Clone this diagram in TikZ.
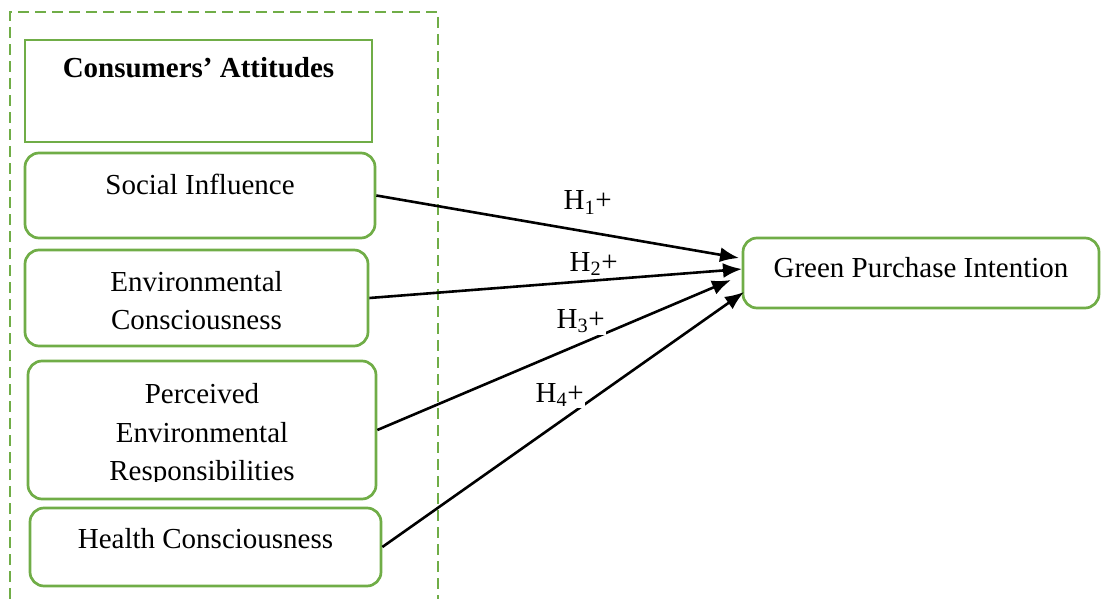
\documentclass[tikz,border=0pt]{standalone}
\usepackage{fontspec}
\setmainfont{Liberation Serif}
\usetikzlibrary{arrows.meta,fit}
\definecolor{gr}{RGB}{112,173,71}
\begin{document}
\begin{tikzpicture}[x=1pt,y=-1pt,
  box/.style={draw=gr,line width=2.7pt,rounded corners=14pt,inner sep=0pt},
  sqbox/.style={draw=gr,line width=2.7pt,inner sep=0pt},
  txt/.style={anchor=base,inner sep=0pt,font=\fontsize{29}{35}\selectfont},
  lbl/.style={anchor=base west,inner sep=1.5pt,fill=white,font=\fontsize{29}{35}\selectfont},
  arr/.style={line width=2.6pt,-{Latex[length=19pt,width=15pt]}}]
\useasboundingbox (0,0) rectangle (1104,599);
% dashed frame
\draw[gr,line width=2.7pt,dash pattern=on 11pt off 6pt] (10,599) -- (10,12) -- (438,12) -- (438,599);
% boxes
\node[sqbox,fit={(25,40)(372,142)}] (ca) {};
\node[txt] (catxt) at (198.5,78) {\bfseries Consumers’ Attitudes};
\node[box,fit={(25,153)(375,238)}] (si) {};
\node[txt] (sitxt) at (200,195) {Social Influence};
\node[box,fit={(25,250)(368,346)}] (ec) {};
\node[txt] (ec1) at (196.5,291) {Environmental};
\node[txt] (ec2) at (196.5,329) {Consciousness};
\node[box,fit={(28,361)(376,499)}] (per) {};
\node[txt] (per1) at (202,403) {Perceived};
\node[txt] (per2) at (202,442) {Environmental};
\begin{scope}
\clip (0,0) rectangle (1104,481);
\node[txt] (per3) at (202,480) {Responsibilities};
\end{scope}
\node[box,fit={(30,508)(381,586)}] (hc) {};
\node[txt] (hctxt) at (205.5,548) {Health Consciousness};
\node[box,fit={(743,238)(1099,308)}] (gpi) {};
\node[txt] (gpitxt) at (921,277) {Green Purchase Intention};
% arrow tips
\coordinate (t1) at (739,258);
\coordinate (t2) at (742,269);
\coordinate (t3) at (731,280);
\coordinate (t4) at (744,292);
\draw[arr] (si.east) -- (t1);
\draw[arr] (ec.east) -- (t2);
\draw[arr] (per.east) -- (t3);
\draw[arr] (hc.east) -- (t4);
% labels
\node[lbl] (h1) at (562,210) {H\textsubscript{1}+};
\node[lbl] (h2) at (568,271) {H\textsubscript{2}+};
\node[lbl] (h3) at (555,328) {H\textsubscript{3}+};
\node[lbl] (h4) at (534,402) {H\textsubscript{4}+};
\end{tikzpicture}
\end{document}
